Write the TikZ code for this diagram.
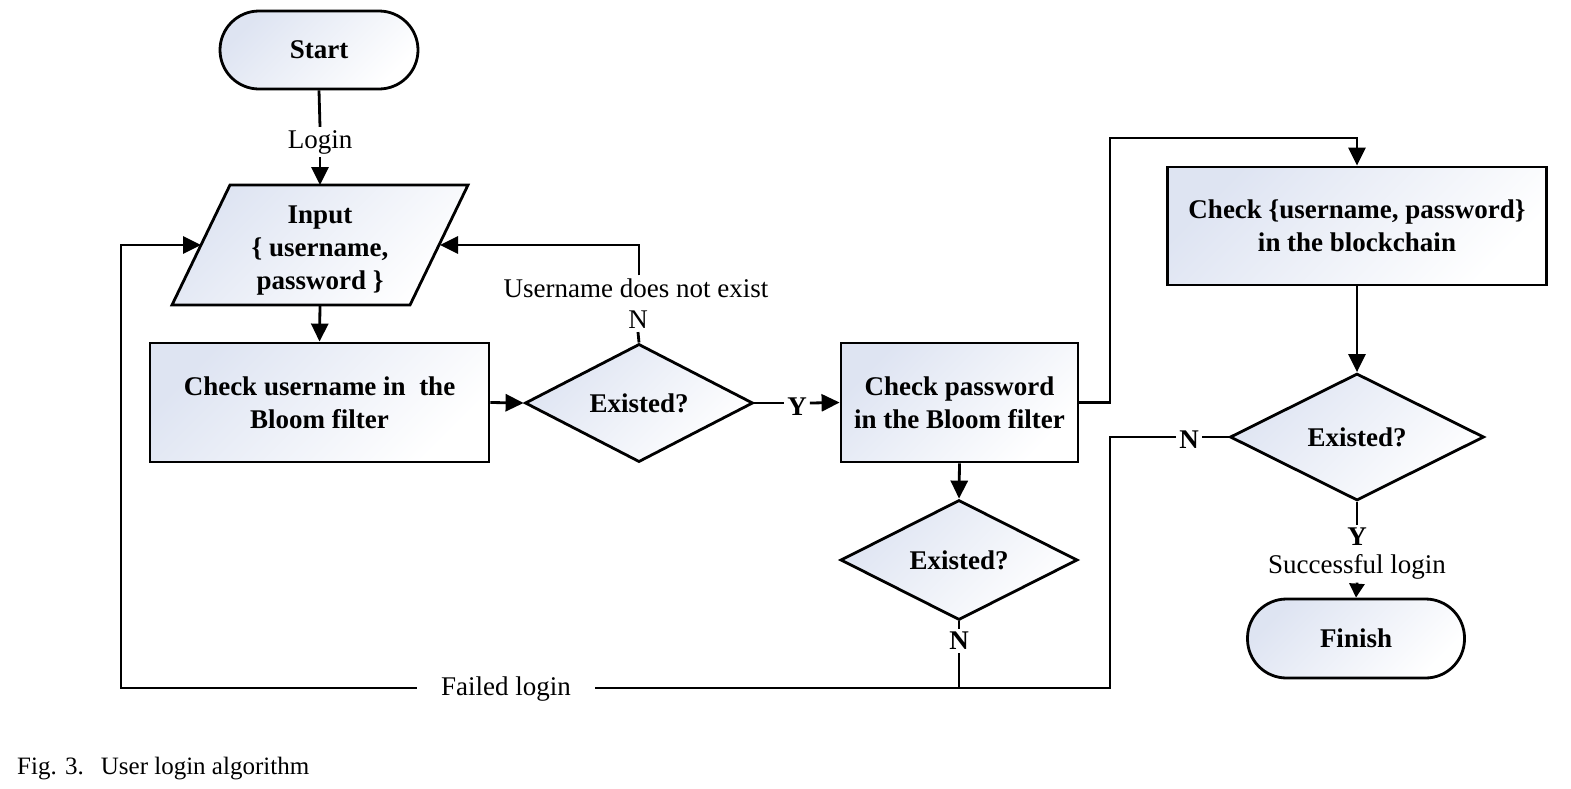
\documentclass[tikz,border=0pt]{standalone}
\usepackage{fontspec}
\setmainfont{Liberation Serif}
\usetikzlibrary{arrows.meta,shapes.geometric}
\definecolor{fillc}{RGB}{222,228,242}
\begin{document}
\begin{tikzpicture}[x=1pt,y=-1pt,
 ln/.style={line width=2.8pt},
 arr/.style={ln,-{Triangle[length=18pt,width=17pt]}},
 sarr/.style={ln,-{Triangle[length=14pt,width=15pt]}},
 shd/.style={top color=fillc,bottom color=white,shading angle=45},
 box/.style={draw,ln,shd,rectangle,align=center,font=\bfseries\fontsize{27}{33}\selectfont,inner sep=0pt},
 pill/.style={box,rounded corners=39pt},
 dia/.style={draw,ln,shd,diamond,inner sep=0pt,font=\bfseries\fontsize{27}{33}\selectfont},
 lab/.style={font=\fontsize{27}{33}\selectfont,inner sep=3pt,yshift=-4pt},
 blab/.style={lab,font=\bfseries\fontsize{27}{33}\selectfont},
]
\useasboundingbox (0,0) rectangle (1571,788);

% nodes
\node[pill,minimum width=198pt,minimum height=78pt] (start) at (319,50) {Start};
\node[lab] (login) at (320,138) {Login};

\path[draw,ln,shd] (230,185) -- (468,185) -- (410,305) -- (172,305) -- cycle;
\node[align=center,font=\bfseries\fontsize{27}{33}\selectfont,inner sep=0pt] (input) at (320,251) {Input\\\{ username,\\password \}};
\coordinate (inT) at (320,185);
\coordinate (inB) at (320,305);
\coordinate (inL) at (201,245);
\coordinate (inR) at (440,245);

\node[box,minimum width=339pt,minimum height=119pt] (check1) at (319.5,402.5) {Check username in~ the\\Bloom filter};
\node[dia,minimum width=228pt,minimum height=117pt] (d1) at (639,403) {Existed?};
\node[lab] (n1) at (638,316) {N};
\node[lab] (unex) at (636,284) {Username does not exist};
\node[blab] (y1) at (797,403) {Y};

\node[box,minimum width=237pt,minimum height=119pt] (check2) at (959.5,402.5) {Check password\\in the Bloom filter};
\node[dia,minimum width=237pt,minimum height=120pt] (d2) at (959,560) {Existed?};
\node[blab] (n2) at (959,637) {N};

\node[box,minimum width=379pt,minimum height=118pt] (check3) at (1357,226) {Check \{username, password\}\\in the blockchain};
\node[dia,minimum width=254pt,minimum height=127pt] (d3) at (1357,437) {Existed?};
\node[blab] (n3) at (1189,436) {N};
\node[blab] (y3) at (1357,533) {Y};
\node[lab] (succ) at (1357,563) {Successful login};
\node[pill,minimum width=217pt,minimum height=79pt] (finish) at (1356,638.5) {Finish};

\node[lab,inner xsep=24pt,yshift=3pt] (failed) at (506,688) {Failed login};
\coordinate (cl) at (121,688);
\coordinate (cr) at (1110,688);
\coordinate (ctop) at (1110,138);

\node[anchor=west,font=\fontsize{25}{30}\selectfont,inner sep=0pt] (cap) at (17,769) {Fig. 3.\hspace{17pt}User login algorithm};

% connectors
\draw[ln] (start.south) -- (login.north);
\draw[arr] (login.south) -- (inT);
\draw[arr] (inB) -- (check1.north);
\draw[arr] (check1.east) -- (d1.west);
\draw[ln] (d1.east) -- (y1.west |- d1.east);
\draw[arr] (y1.east |- d1.east) -- (check2.west);
\draw[ln] (d1.north) -- (n1.south);
\draw[arr] (unex.north -| d1.north) |- (inR);
\draw[arr] (check2.east) -| (ctop) -| (check3.north);
\draw[arr] (check2.south) -- (d2.north);
\draw[arr] (check3.south) -- (d3.north);
\draw[ln] (d3.west) -- (n3.east |- d3.west);
\draw[ln] (n3.west |- d3.west) -| (cr) -- (failed.east |- cr);
\draw[ln] (d2.south) -- (n2.north);
\draw[ln] (n2.south) -- (n2.south |- cr);
\draw[arr] (failed.west |- cl) -- (cl) |- (inL);
\draw[ln] (d3.south) -- (y3.north);
\draw[sarr] (succ.south) -- (finish.north);
\end{tikzpicture}
\end{document}
